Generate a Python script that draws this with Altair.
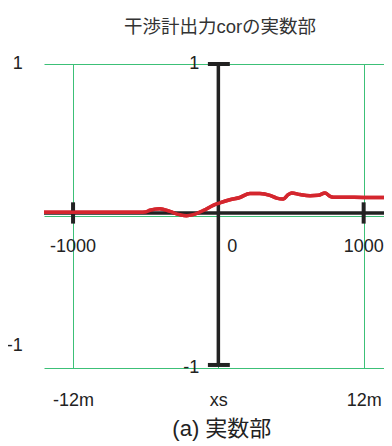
import altair as alt
import pandas as pd

# ---- data ----
curve_x = [-1200, -541, -500, -470, -403, -334, -266, -219, -174, -105, -36, 10, 79,
           148, 217, 286, 355, 401, 447, 481, 505, 562, 631, 688, 734, 769, 792, 838,
           1000, 1140]
curve_y = [0.024, 0.024, 0.026, 0.038, 0.048, 0.030, 0.009, 0.002, 0.009, 0.035, 0.070,
           0.086, 0.107, 0.122, 0.148, 0.148, 0.136, 0.118, 0.112, 0.141, 0.151, 0.141,
           0.134, 0.136, 0.151, 0.129, 0.124, 0.124, 0.122, 0.121]

x_domain = [-1200, 1140]
y_domain = [-1, 1]
grid_x = [-1000, 0, 1000]
grid_y = [-1, 0, 1]

# black "axes" drawn inside the plot
rule_x = [-1200, 0, -72, -72, -1000, 1000]
rule_x2 = [1140, 0, 79, 79, -1000, 1000]
rule_y = [0.02, -0.98, 1.0, -0.98, -0.05, -0.05]
rule_y2 = [0.02, 1.0, 1.0, -0.98, 0.09, 0.09]
rule_w = ["axis", "axis", "tick", "tick", "tick", "tick"]

center_x_text = ["-1000", "1000"]
center_x_val = [-1000, 1000]
zero_text = ["0"]
vert_text = ["1", "-1"]
vert_val = [1, -1]
left_text = ["1", "-1"]
left_val = [1, -0.853]
caption = "(a)  実数部"
title = "干渉計出力corの実数部"

FONT = "Liberation Sans, Noto Sans CJK JP, sans-serif"
GREEN = "#3cc077"
BLACK = "#222222"
RED = "#d4262e"
TXT = "#222222"

xs = alt.Scale(domain=x_domain, nice=False, zero=False)
ys = alt.Scale(domain=y_domain, nice=False, zero=False)

curve = pd.DataFrame({"x": curve_x, "y": curve_y})
rules = pd.DataFrame({"x": rule_x, "x2": rule_x2, "y": rule_y, "y2": rule_y2, "kind": rule_w})

label_expr = "datum.value == 0 ? 'xs' : (datum.value < 0 ? '-12m' : '12m')"

line = alt.Chart(curve).mark_line(color=RED, strokeWidth=3.5, interpolate="monotone").encode(
    x=alt.X("x:Q", scale=xs,
            axis=alt.Axis(values=grid_x, grid=True, gridColor=GREEN, gridWidth=1,
                          domain=False, ticks=False, tickSize=0, labelPadding=23,
                          labelExpr=label_expr, labelFontSize=18, labelFont=FONT,
                          labelColor=TXT, title=None)),
    y=alt.Y("y:Q", scale=ys,
            axis=alt.Axis(values=grid_y, grid=True, gridColor=GREEN, gridWidth=1,
                          domain=False, ticks=False, labels=False, title=None)),
)

axis_rules = alt.Chart(rules[rules.kind == "axis"]).mark_rule(color=BLACK, strokeWidth=3.5).encode(
    x=alt.X("x:Q", scale=xs), x2="x2:Q", y=alt.Y("y:Q", scale=ys), y2="y2:Q")
tick_rules = alt.Chart(rules[rules.kind == "tick"]).mark_rule(color=BLACK, strokeWidth=4).encode(
    x=alt.X("x:Q", scale=xs), x2="x2:Q", y=alt.Y("y:Q", scale=ys), y2="y2:Q")

tk = dict(font=FONT, fontSize=18, color=TXT, baseline="middle")

t_center = alt.Chart(pd.DataFrame({"t": center_x_text, "x": center_x_val, "y": -0.205})).mark_text(
    align="center", **tk).encode(x=alt.X("x:Q", scale=xs), y=alt.Y("y:Q", scale=ys), text="t:N")
t_zero = alt.Chart(pd.DataFrame({"t": zero_text, "x": [0], "y": -0.205})).mark_text(
    align="left", dx=9, **tk).encode(x=alt.X("x:Q", scale=xs), y=alt.Y("y:Q", scale=ys), text="t:N")
t_vert = alt.Chart(pd.DataFrame({"t": vert_text, "x": 0, "y": vert_val})).mark_text(
    align="right", dx=-19, **tk).encode(x=alt.X("x:Q", scale=xs), y=alt.Y("y:Q", scale=ys), text="t:N")
t_left = alt.Chart(pd.DataFrame({"t": left_text, "x": -1346, "y": left_val})).mark_text(
    align="right", **tk).encode(x=alt.X("x:Q", scale=xs), y=alt.Y("y:Q", scale=ys), text="t:N")
t_cap = alt.Chart(pd.DataFrame({"t": [caption], "x": [24], "y": [-1.40]})).mark_text(
    align="center", font=FONT, fontSize=22, color=TXT, baseline="middle").encode(
    x=alt.X("x:Q", scale=xs), y=alt.Y("y:Q", scale=ys), text="t:N")

chart = alt.layer(line, axis_rules, tick_rules, line.encode(), t_center, t_zero, t_vert, t_left, t_cap).properties(
    width=340, height=304,
    title=alt.TitleParams(title, font=FONT, fontSize=18.5, fontWeight="normal", color="#333333",
                          anchor="middle", offset=19, dx=6),
    autosize=alt.AutoSizeParams(type="none"),
    padding={"left": 36, "top": 56, "right": 0, "bottom": 74},
).configure_view(stroke=None)

chart.save("out.html", embed_options={"renderer": "svg", "actions": False})
